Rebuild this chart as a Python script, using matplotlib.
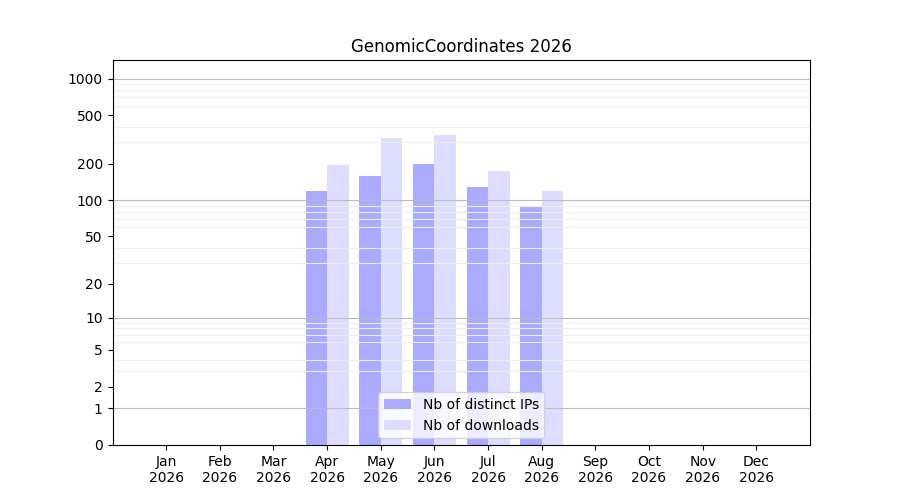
import numpy as np
import matplotlib
matplotlib.use("Agg")
import matplotlib.pyplot as plt
from matplotlib.ticker import FixedLocator, NullFormatter

months = ["Jan", "Feb", "Mar", "Apr", "May", "Jun",
          "Jul", "Aug", "Sep", "Oct", "Nov", "Dec"]
year = "2026"
distinct_ips = [0, 0, 0, 119, 159, 199, 129, 88, 0, 0, 0, 0]
downloads = [0, 0, 0, 195, 326, 345, 174, 119, 0, 0, 0, 0]
ytick_values = [0, 1, 2, 5, 10, 20, 50, 100, 200, 500, 1000]


def fwd(v):
    return np.log10(1 + np.clip(v, 0, None))


def inv(v):
    return 10 ** v - 1


fig, ax = plt.subplots(figsize=(9, 5), dpi=100)
x = np.arange(len(months))
w = 0.4

ax.bar(x - w / 2, distinct_ips, width=w, color="#aaaaff", label="Nb of distinct IPs")
ax.bar(x + w / 2, downloads, width=w, color="#ddddff", label="Nb of downloads")

ax.set_yscale("function", functions=(fwd, inv))
ax.set_ylim(0, 1420)
ax.set_xlim(-1, 12)

ax.yaxis.set_major_locator(FixedLocator(ytick_values))
ax.set_yticklabels([str(v) for v in ytick_values])
minor = [m * d for d in (1, 10, 100, 1000) for m in range(2, 10) if m * d < 1420]
ax.yaxis.set_minor_locator(FixedLocator(minor))
ax.yaxis.set_minor_formatter(NullFormatter())
ax.tick_params(axis="y", which="minor", length=0)

# grid: decades darker, others light
for v in (1, 10, 100, 1000):
    ax.axhline(v, color="#bbbbbb", linewidth=0.8, zorder=1.5)
ax.grid(True, axis="y", which="minor", color="#eeeeee", linewidth=0.8)

ax.set_xticks(x)
ax.set_xticklabels([f"{m}\n{year}" for m in months])

ax.set_title("GenomicCoordinates 2026")
ax.legend(loc="lower center")

fig.savefig("out.png")
